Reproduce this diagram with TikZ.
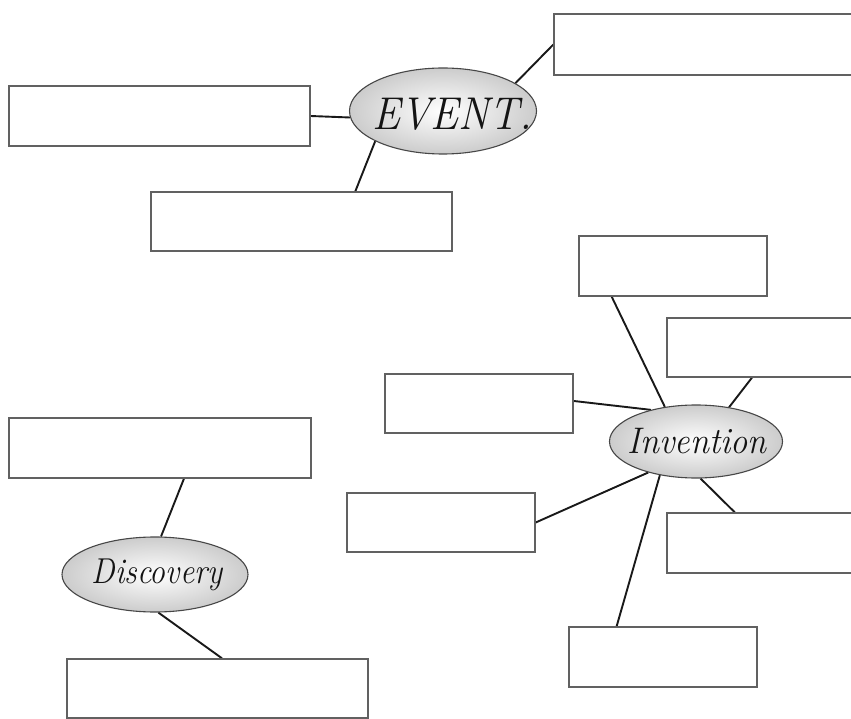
\documentclass[tikz,border=0pt]{standalone}
\usetikzlibrary{shapes.geometric,calc}
\pgfdeclarelayer{bg}
\pgfsetlayers{bg,main}
\tikzset{
  blank/.style={draw=black!62, line width=1.3pt, rectangle, inner sep=0pt, fill=white},
  bubble/.style={ellipse, draw=black!72, line width=1.1pt, inner sep=0pt,
     inner color=white, outer color=black!20},
  bubbletext/.style={inner sep=0pt, anchor=base, text=black!92},
  link/.style={draw=black!90, line width=1.9pt}
}
\begin{document}
\begin{tikzpicture}[x=1pt,y=-1pt]
\clip (0,0) rectangle (851,719);
\begin{pgfonlayer}{bg}
\fill[white] (0,0) rectangle (851,719);
\end{pgfonlayer}
% boxes
\node[blank, minimum width=316pt, minimum height=61pt] (bTR) at (712,44.5) {};
\node[blank, minimum width=301pt, minimum height=60pt] (bL) at (159.5,116) {};
\node[blank, minimum width=301pt, minimum height=59pt] (bLow) at (301.5,221.5) {};
\node[blank, minimum width=188pt, minimum height=60pt] (bA) at (673,266) {};
\node[blank, minimum width=203pt, minimum height=59pt] (bB) at (768.5,347.5) {};
\node[blank, minimum width=188pt, minimum height=59pt] (bC) at (479,403.5) {};
\node[blank, minimum width=188pt, minimum height=59pt] (bD) at (441,522.5) {};
\node[blank, minimum width=203pt, minimum height=60pt] (bE) at (768.5,543) {};
\node[blank, minimum width=188pt, minimum height=60pt] (bF) at (663,657) {};
\node[blank, minimum width=302pt, minimum height=60pt] (bDT) at (160,448) {};
\node[blank, minimum width=301pt, minimum height=59pt] (bDB) at (217.5,688.5) {};
% bubbles
\node[bubble, minimum width=187pt, minimum height=86pt] (ev) at (443,111) {};
\node[bubbletext, font=\fontsize{46}{46}\selectfont\itshape] (evt) at (452,130) {\scalebox{0.92}[1]{EVENT.}};
\node[bubble, minimum width=173pt, minimum height=73pt] (inv) at (696,441.5) {};
\node[bubbletext, font=\fontsize{37}{37}\selectfont\itshape] (invt) at (697,453) {\scalebox{0.93}[1]{Invention}};
\node[bubble, minimum width=186pt, minimum height=75pt] (dis) at (155,574.5) {};
\node[bubbletext, font=\fontsize{36}{36}\selectfont\itshape] (dist) at (157,583) {\scalebox{0.88}[1]{Discovery}};
% connectors
\begin{pgfonlayer}{bg}
\draw[link] (bTR.west) -- (ev.21);
\draw[link] (bL.east) -- (ev.184);
\draw[link] ($(bLow.north west)!0.678!(bLow.north east)$) -- (ev.204);
\draw[link] ($(bA.south west)!0.176!(bA.south east)$) -- (inv.132.8);
\draw[link] ($(bB.south west)!0.419!(bB.south east)$) -- (inv.46.3);
\draw[link] ($(bC.north east)!0.458!(bC.south east)$) -- (inv.145.5);
\draw[link] (bD.east) -- (inv.213);
\draw[link] ($(bE.north west)!0.335!(bE.north east)$) -- (inv.-83);
\draw[link] ($(bF.north west)!0.255!(bF.north east)$) -- (inv.223.7);
\draw[link] ($(bDT.south west)!0.579!(bDT.south east)$) -- (dis.81);
\draw[link] ($(bDB.north west)!0.515!(bDB.north east)$) -- (dis.-85.5);
\end{pgfonlayer}
\end{tikzpicture}
\end{document}
